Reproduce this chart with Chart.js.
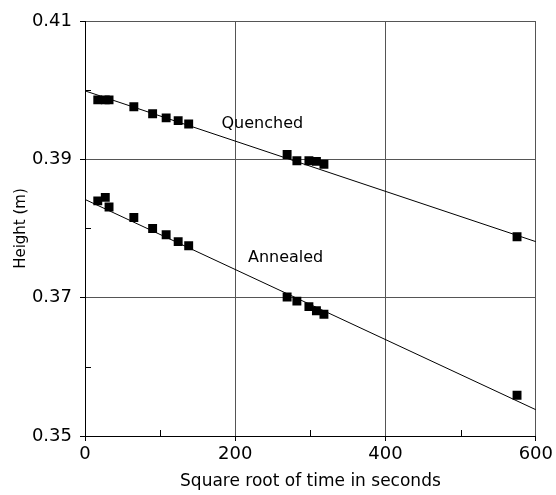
<!DOCTYPE html>
<html>
<head>
<meta charset="utf-8">
<script src="https://cdn.jsdelivr.net/npm/chart.js@4.4.0/dist/chart.umd.min.js"></script>
<style>
  html, body { margin: 0; padding: 0; background: #fff; }
  #wrap { width: 556px; height: 495px; }
</style>
</head>
<body>
<div id="wrap"><canvas id="myChart"></canvas></div>
<script>
// square root of time in seconds
const times = [17, 27, 32, 65, 90, 108, 124, 138, 269, 282, 298, 308, 318, 575];
const quenched = [0.3986, 0.3986, 0.3986, 0.3976, 0.3966, 0.3960, 0.3956, 0.3951, 0.3907, 0.3898, 0.3898, 0.3897, 0.3893, 0.3788];
const annealed = [0.3840, 0.3845, 0.3831, 0.3816, 0.3800, 0.3791, 0.3781, 0.3775, 0.3701, 0.3695, 0.3687, 0.3681, 0.3676, 0.3559];

// fitted lines (end points)
const fitX = [0, 600];
const quenchedFit = [0.3999, 0.3781];
const annealedFit = [0.3842, 0.3538];

const xTicks = [0, 200, 400, 600];
const yTicks = [0.35, 0.37, 0.39, 0.41];
const xMinor = [100, 300, 500];
const yMinor = [0.36, 0.38, 0.40];

const FONT = "'DejaVu Sans', sans-serif";

function pts(xs, ys) {
    return xs.map((x, i) => ({x: x, y: ys[i]}));
}

// inward minor ticks + curve labels
const extras = {
    id: 'extras',
    afterDraw(chart) {
        const ctx = chart.ctx;
        const xs = chart.scales.x, ys = chart.scales.y;
        const a = chart.chartArea;
        ctx.save();
        ctx.strokeStyle = '#000';
        ctx.lineWidth = 1;
        ctx.beginPath();
        xMinor.forEach(v => {
            const px = Math.round(xs.getPixelForValue(v)) + 0.5;
            ctx.moveTo(px, a.bottom);
            ctx.lineTo(px, a.bottom - 6);
        });
        yMinor.forEach(v => {
            const py = Math.round(ys.getPixelForValue(v)) + 0.5;
            ctx.moveTo(a.left, py);
            ctx.lineTo(a.left + 6, py);
        });
        ctx.stroke();

        ctx.fillStyle = '#000';
        ctx.font = '16px ' + FONT;
        ctx.textAlign = 'center';
        ctx.textBaseline = 'middle';
        ctx.fillText('Quenched', xs.getPixelForValue(236), ys.getPixelForValue(0.3951));
        ctx.fillText('Annealed', xs.getPixelForValue(267), ys.getPixelForValue(0.3757));
        ctx.restore();
    }
};

new Chart(document.getElementById('myChart'), {
    type: 'scatter',
    data: {
        datasets: [
            {
                label: 'Quenched',
                data: pts(times, quenched),
                pointStyle: 'rect',
                pointRadius: 6.3,
                borderWidth: 0,
                backgroundColor: '#000'
            },
            {
                label: 'Annealed',
                data: pts(times, annealed),
                pointStyle: 'rect',
                pointRadius: 6.3,
                borderWidth: 0,
                backgroundColor: '#000'
            },
            {
                label: 'Quenched fit',
                data: pts(fitX, quenchedFit),
                showLine: true,
                pointRadius: 0,
                borderColor: '#000',
                borderWidth: 1
            },
            {
                label: 'Annealed fit',
                data: pts(fitX, annealedFit),
                showLine: true,
                pointRadius: 0,
                borderColor: '#000',
                borderWidth: 1
            }
        ]
    },
    options: {
        responsive: true,
        maintainAspectRatio: false,
        animation: false,
        layout: {padding: {top: 21, right: 19, left: 0, bottom: 0}},
        plugins: {
            legend: {display: false},
            tooltip: {enabled: false}
        },
        scales: {
            x: {
                type: 'linear',
                min: 0,
                max: 600,
                afterBuildTicks: s => { s.ticks = xTicks.map(v => ({value: v})); },
                afterFit: s => { s.height = 59; },
                grid: {color: '#555', lineWidth: 1, tickLength: 5, tickColor: '#000'},
                border: {color: '#000', width: 1},
                ticks: {color: '#000', font: {family: FONT, size: 18}, padding: 3, maxRotation: 0},
                title: {display: true, text: 'Square root of time in seconds', color: '#000',
                        font: {family: FONT, size: 17}, padding: {top: 2, bottom: 3}}
            },
            y: {
                type: 'linear',
                min: 0.35,
                max: 0.41,
                afterBuildTicks: s => { s.ticks = yTicks.map(v => ({value: v})); },
                afterFit: s => { s.width = 85; },
                grid: {color: '#555', lineWidth: 1, tickLength: 5, tickColor: '#000'},
                border: {color: '#000', width: 1},
                ticks: {color: '#000', font: {family: FONT, size: 18}, padding: 8,
                        callback: v => v.toFixed(2)},
                title: {display: true, text: 'Height (m)', color: '#000',
                        font: {family: FONT, size: 15}, padding: {top: 12, bottom: 0}}
            }
        }
    },
    plugins: [extras]
});
</script>
</body>
</html>
